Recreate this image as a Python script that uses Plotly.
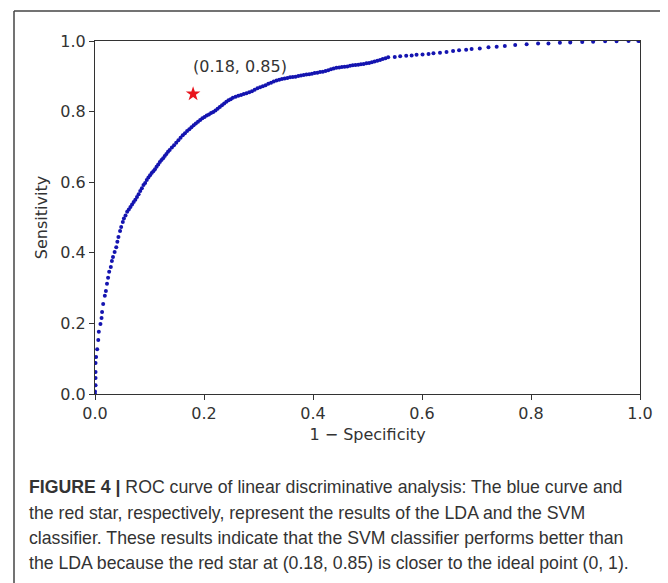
import plotly.graph_objects as go

# ---- data (1 - specificity, sensitivity) ----
lda_fpr = [
    0.000, 0.000, 0.001, 0.001, 0.001, 0.001, 0.002, 0.004, 0.006, 0.007,
    0.010, 0.012, 0.013, 0.015, 0.018, 0.020, 0.022, 0.024, 0.026, 0.029,
    0.031, 0.033, 0.036, 0.039, 0.041, 0.043, 0.046, 0.048, 0.051, 0.053,
    0.056, 0.059, 0.062, 0.065, 0.068, 0.071, 0.074, 0.077, 0.080, 0.083,
    0.086, 0.089, 0.092, 0.095, 0.098, 0.101, 0.104, 0.107, 0.110, 0.113,
    0.116, 0.119, 0.122, 0.125, 0.128, 0.131, 0.134, 0.137,
    0.141, 0.145, 0.149, 0.153, 0.157, 0.161, 0.165, 0.169, 0.173, 0.177,
    0.181, 0.185, 0.189, 0.193, 0.197, 0.201, 0.205, 0.209, 0.213, 0.217,
    0.221, 0.225, 0.229, 0.233, 0.237, 0.241, 0.245, 0.249, 0.253,
    0.258, 0.263, 0.268, 0.273, 0.278, 0.283, 0.288, 0.293, 0.298, 0.303,
    0.308, 0.313, 0.318, 0.323, 0.328, 0.333, 0.338, 0.343, 0.348, 0.353,
    0.358, 0.363, 0.368, 0.373, 0.378, 0.383, 0.388, 0.393, 0.398, 0.403,
    0.408, 0.413, 0.418, 0.423, 0.428, 0.433, 0.438, 0.443, 0.448, 0.453,
    0.458, 0.463, 0.468, 0.473, 0.478, 0.483, 0.488, 0.493, 0.498, 0.503,
    0.508, 0.513, 0.518, 0.523, 0.528, 0.533,
    0.538, 0.550, 0.560, 0.571, 0.581, 0.590, 0.601, 0.612, 0.621, 0.633,
    0.645, 0.657, 0.668, 0.681, 0.691, 0.706, 0.722, 0.737, 0.752, 0.771,
    0.792, 0.813, 0.832, 0.853, 0.872, 0.894, 0.914, 0.936, 0.957, 0.979,
    0.997, 1.000,
]
lda_tpr = [
    0.000, 0.007, 0.025, 0.045, 0.062, 0.088, 0.105, 0.127, 0.153, 0.176,
    0.198, 0.215, 0.232, 0.255, 0.278, 0.292, 0.312, 0.329, 0.346, 0.360,
    0.377, 0.388, 0.402, 0.416, 0.431, 0.445, 0.462, 0.473, 0.487, 0.497,
    0.506, 0.516, 0.523, 0.530, 0.537, 0.544, 0.550, 0.558, 0.566, 0.575,
    0.583, 0.592, 0.598, 0.606, 0.613, 0.620, 0.626, 0.631, 0.637, 0.644,
    0.650, 0.657, 0.663, 0.668, 0.674, 0.680, 0.686, 0.691,
    0.698, 0.705, 0.712, 0.719, 0.726, 0.733, 0.739, 0.745, 0.750, 0.756,
    0.761, 0.766, 0.771, 0.776, 0.781, 0.785, 0.789, 0.792, 0.796, 0.799,
    0.803, 0.808, 0.813, 0.818, 0.823, 0.828, 0.832, 0.835, 0.839,
    0.842, 0.845, 0.847, 0.850, 0.852, 0.855, 0.858, 0.862, 0.866, 0.869,
    0.872, 0.875, 0.879, 0.882, 0.885, 0.888, 0.890, 0.892, 0.894, 0.895,
    0.897, 0.898, 0.899, 0.901, 0.902, 0.904, 0.905, 0.906, 0.907, 0.909,
    0.910, 0.912, 0.913, 0.915, 0.917, 0.920, 0.922, 0.924, 0.925, 0.926,
    0.927, 0.928, 0.930, 0.931, 0.932, 0.933, 0.934, 0.935, 0.937, 0.938,
    0.940, 0.942, 0.944, 0.946, 0.949, 0.951,
    0.954, 0.955, 0.957, 0.958, 0.959, 0.961, 0.962, 0.963, 0.965, 0.967,
    0.969, 0.972, 0.974, 0.975, 0.977, 0.979, 0.982, 0.984, 0.986, 0.989,
    0.991, 0.993, 0.993, 0.995, 0.996, 0.997, 0.998, 0.999, 0.999, 1.000,
    1.000, 1.000,
]

svm_fpr = [0.18]
svm_tpr = [0.85]
svm_label = "(0.18, 0.85)"

x_ticks = [0.0, 0.2, 0.4, 0.6, 0.8, 1.0]
x_tick_text = ["0.0", "0.2", "0.4", "0.6", "0.8", "1.0"]
y_ticks = [0.0, 0.2, 0.4, 0.6, 0.8, 1.0]
y_tick_text = ["0.0", "0.2", "0.4", "0.6", "0.8", "1.0"]

x_title = "1 \u2212 Specificity"
y_title = "Sensitivity"

caption_lines = [
    "<b>FIGURE 4 |</b> ROC curve of linear discriminative analysis: The blue curve and",
    "the red star, respectively, represent the results of the LDA and the SVM",
    "classifier. These results indicate that the SVM classifier performs better than",
    "the LDA because the red star at (0.18, 0.85) is closer to the ideal point (0, 1).",
]

# ---- figure geometry (page has an 8px body margin) ----
OFF = 8
W, H = 660, 575
L, R, T, B = 87, 28, 33, 189
plot_w = W - L - R
plot_h = H - T - B


def px_to_paper_x(px):  # page pixel -> paper
    return (px - OFF - L) / plot_w


def px_to_paper_y(py):
    return (H - B - (py - OFF)) / plot_h


fig = go.Figure()
fig.add_trace(go.Scatter(
    x=lda_fpr, y=lda_tpr, mode="markers",
    marker=dict(size=4, color="#1414b0", line=dict(width=0)),
    name="LDA", showlegend=False,
))
fig.add_trace(go.Scatter(
    x=svm_fpr, y=svm_tpr, mode="markers",
    marker=dict(symbol="star", size=11, color="#e8141c", line=dict(width=0)),
    name="SVM", showlegend=False,
))

FS = 16
tick_font = dict(family="DejaVu Sans", size=FS, color="#333333")
axis_common = dict(
    showgrid=False, zeroline=False, showline=True, mirror=True,
    linecolor="#333333", linewidth=1.2,
    ticks="outside", ticklen=5, tickwidth=1.2, tickcolor="#333333",
    tickfont=tick_font,
)

fig.update_layout(
    width=W, height=H,
    margin=dict(l=L, r=R, t=T, b=B, pad=0),
    paper_bgcolor="white", plot_bgcolor="white",
    xaxis=dict(range=[0, 1], tickvals=x_ticks, ticktext=x_tick_text,
               title=dict(text=x_title, standoff=6,
                          font=dict(family="DejaVu Sans", size=FS, color="#333333")),
               **axis_common),
    yaxis=dict(range=[0, 1], tickvals=y_ticks, ticktext=y_tick_text,
               title=dict(text=y_title, standoff=8,
                          font=dict(family="DejaVu Sans", size=FS, color="#333333")),
               **axis_common),
)

fig.add_annotation(
    x=0.176, y=0.896, xref="x", yref="y", text=svm_label, showarrow=False,
    xanchor="left", yanchor="bottom",
    font=dict(family="DejaVu Sans", size=FS, color="#333333"),
)

# outer frame of the figure panel
fig.add_shape(type="line", xref="paper", yref="paper",
              x0=px_to_paper_x(14), x1=px_to_paper_x(700),
              y0=px_to_paper_y(11), y1=px_to_paper_y(11),
              line=dict(color="#444444", width=1.5))
fig.add_shape(type="line", xref="paper", yref="paper",
              x0=px_to_paper_x(14), x1=px_to_paper_x(14),
              y0=px_to_paper_y(11), y1=px_to_paper_y(700),
              line=dict(color="#444444", width=1.5))

caption_y = [487, 513, 538, 563]
for line, cy in zip(caption_lines, caption_y):
    fig.add_annotation(
        x=px_to_paper_x(27), y=px_to_paper_y(cy), xref="paper", yref="paper",
        text=line, showarrow=False, xanchor="left", yanchor="middle",
        font=dict(family="Liberation Sans", size=17.7, color="#333333"),
    )

fig.write_html("out.html")
